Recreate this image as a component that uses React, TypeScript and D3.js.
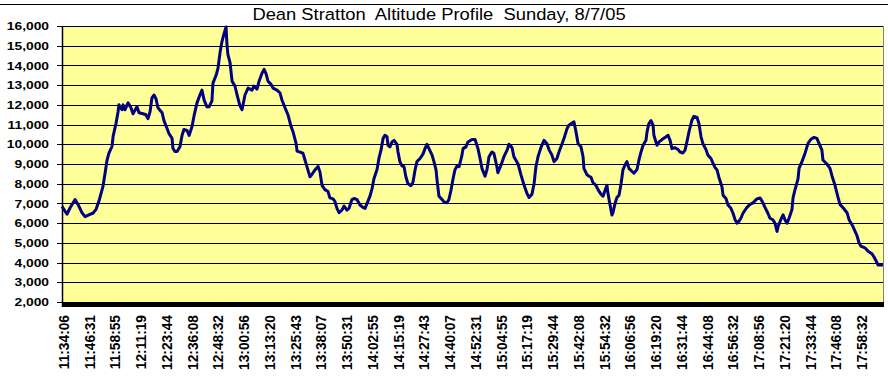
import React from "react";
import * as d3 from "d3";

const title = "Dean Stratton  Altitude Profile  Sunday, 8/7/05";
const originClock = "11:33:30";
const xEndMin = 395.8;

const timeLabels = [
  "11:34:06", "11:46:31", "11:58:55", "12:11:19", "12:23:44", "12:36:08", "12:48:32", "13:00:56",
  "13:13:20", "13:25:43", "13:38:07", "13:50:31", "14:02:55", "14:15:19", "14:27:43", "14:40:07",
  "14:52:31", "15:04:55", "15:17:19", "15:29:44", "15:42:08", "15:54:32", "16:06:56", "16:19:20",
  "16:31:44", "16:44:08", "16:56:32", "17:08:56", "17:21:20", "17:33:44", "17:46:08", "17:58:32",
];

const yTickValues = [2000, 3000, 4000, 5000, 6000, 7000, 8000, 9000, 10000, 11000, 12000, 13000, 14000, 15000, 16000];

// minutes since 11:33:30
const elapsedMin = [
  0.0, 2.4, 3.9, 6.3, 7.7, 9.6, 11.1, 13.5, 14.9, 16.4, 17.8, 19.7, 20.7, 21.7, 22.6, 24.1, 24.6, 26.0, 27.0, 27.4,
  28.9, 29.4, 30.3, 31.8, 33.2, 34.2, 36.1, 37.1, 39.0, 40.4, 41.4, 42.4, 43.3, 44.3, 45.3, 46.2, 48.2, 49.1, 50.6, 51.5,
  53.0, 53.4, 54.4, 55.4, 56.8, 57.8, 58.7, 60.2, 61.2, 62.6, 63.6, 65.0, 66.4, 67.4, 68.4, 69.8, 70.8, 72.2, 72.7, 74.2,
  75.1, 76.1, 77.0, 78.0, 79.0, 79.4, 79.9, 80.9, 81.9, 83.3, 84.3, 85.7, 86.7, 88.1, 89.6, 91.5, 92.4, 93.9, 94.9, 96.3,
  97.3, 98.2, 99.2, 100.6, 101.6, 103.5, 105.0, 105.9, 107.4, 108.8, 110.3, 111.2, 112.7, 113.2, 114.6, 116.0, 117.0, 118.4, 119.4, 120.4,
  121.8, 123.3, 124.2, 125.2, 126.6, 128.1, 129.0, 130.5, 131.4, 132.4, 133.4, 134.8, 135.8, 137.2, 138.2, 139.6, 140.6, 142.0, 143.5, 144.9,
  145.9, 146.9, 148.3, 149.3, 150.2, 151.7, 152.6, 153.6, 154.6, 155.5, 156.5, 157.0, 157.9, 158.9, 159.9, 161.3, 161.8, 162.7, 163.7, 164.7,
  165.6, 166.6, 168.0, 169.0, 170.0, 170.9, 172.4, 173.8, 174.8, 175.7, 176.7, 178.2, 179.1, 180.1, 180.6, 181.5, 183.0, 183.9, 185.4, 186.3,
  187.3, 188.3, 189.2, 190.2, 191.2, 192.6, 193.1, 194.5, 195.5, 197.4, 198.9, 200.3, 201.3, 202.2, 203.7, 204.6, 205.6, 207.0, 208.0, 209.4,
  209.9, 211.4, 212.8, 214.3, 215.2, 216.7, 217.6, 219.6, 221.0, 222.5, 223.9, 224.9, 226.3, 227.3, 228.2, 229.2, 230.6, 232.1, 233.5, 234.5,
  235.9, 236.9, 238.3, 239.3, 240.8, 241.7, 243.2, 244.1, 245.6, 246.5, 247.5, 248.5, 249.9, 250.9, 251.3, 252.8, 253.8, 254.7, 255.7, 257.1,
  258.1, 259.5, 260.5, 261.5, 262.4, 262.9, 263.9, 264.8, 265.3, 266.3, 267.2, 268.2, 269.2, 270.1, 271.1, 272.0, 273.0, 274.5, 275.4, 276.9,
  277.8, 278.8, 279.8, 281.2, 281.7, 282.6, 283.6, 284.6, 285.0, 286.5, 287.5, 288.9, 290.3, 291.8, 292.8, 293.7, 295.2, 296.6, 297.6, 299.0,
  300.0, 300.9, 301.9, 303.3, 304.3, 305.8, 306.7, 307.7, 308.6, 310.1, 311.0, 312.5, 313.5, 314.4, 315.4, 316.3, 317.8, 318.3, 319.7, 320.7,
  322.1, 323.1, 324.1, 325.0, 326.0, 326.9, 327.9, 329.8, 331.3, 332.7, 334.6, 336.1, 337.1, 338.5, 339.9, 340.9, 342.3, 343.3, 344.3, 344.8,
  346.2, 347.2, 348.1, 349.1, 350.1, 351.5, 352.0, 352.9, 354.4, 354.9, 356.3, 357.8, 359.2, 360.6, 362.1, 363.5, 364.5, 365.9, 366.4, 368.3,
  369.8, 370.8, 372.2, 373.6, 374.6, 376.1, 378.0, 379.0, 380.4, 381.4, 382.8, 383.8, 384.7, 386.6, 388.1, 390.0, 391.0, 392.4, 392.9, 395.3,
];

const altitudeFt = [
  6850, 6450, 6780, 7200, 6950, 6530, 6330, 6450, 6500, 6700, 7120, 7850, 8500, 9200, 9550, 9900, 10400, 11050, 11650, 12000,
  11750, 12000, 11750, 12100, 11850, 11550, 11900, 11600, 11550, 11500, 11300, 11650, 12350, 12500, 12300, 11850, 11600, 11200, 10800, 10550,
  10300, 9800, 9630, 9630, 9880, 10450, 10750, 10700, 10450, 10900, 11450, 12100, 12500, 12750, 12250, 11900, 11900, 12200, 13100, 13500,
  13850, 14650, 15200, 15600, 15950, 15100, 14550, 14150, 13200, 12950, 12500, 11950, 11750, 12500, 12850, 12750, 12950, 12800, 13200, 13600,
  13800, 13600, 13200, 13050, 12850, 12750, 12600, 12250, 11850, 11500, 10900, 10650, 10050, 9650, 9600, 9550, 9200, 8700, 8350, 8480,
  8700, 8880, 8600, 7920, 7700, 7600, 7280, 7230, 7100, 6750, 6530, 6660, 6870, 6660, 6750, 7200, 7250, 7200, 6920, 6800,
  6750, 7000, 7370, 7750, 8250, 8720, 9280, 9700, 10300, 10460, 10380, 9950, 9870, 10120, 10200, 10000, 9610, 9120, 8900, 8860,
  8340, 8000, 7900, 8080, 8700, 9120, 9280, 9500, 9780, 10000, 9780, 9450, 9120, 8700, 8170, 7370, 7200, 7080, 7030, 7200,
  7670, 8250, 8700, 8900, 8860, 9450, 9780, 9870, 10120, 10240, 10240, 9780, 9280, 8780, 8380, 8700, 9370, 9610, 9530, 8860,
  8560, 8950, 9370, 9700, 10000, 9830, 9370, 9000, 8450, 7920, 7500, 7300, 7470, 8000, 8860, 9370, 9830, 10200, 10030, 9730,
  9450, 9120, 9280, 9610, 10030, 10290, 10800, 10970, 11080, 11140, 10630, 10030, 9870, 9370, 8780, 8450, 8380, 8330, 8050, 7920,
  7700, 7470, 7370, 7670, 7920, 7500, 6920, 6410, 6530, 7000, 7300, 7420, 8000, 8700, 8950, 9120, 8780, 8620, 8530, 8730,
  9200, 9610, 9950, 10200, 10630, 11050, 11200, 10970, 10460, 9950, 10120, 10240, 10340, 10460, 10200, 9780, 9830, 9730, 9610, 9560,
  9700, 10120, 10630, 11220, 11420, 11360, 11050, 10380, 10030, 9730, 9450, 9280, 9030, 8830, 8700, 8330, 7830, 7420, 7250, 6920,
  6750, 6500, 6170, 6000, 6100, 6250, 6500, 6800, 6950, 7030, 7230, 7280, 7120, 6800, 6500, 6250, 6170, 6000, 5580, 5830,
  6200, 6420, 6170, 6000, 6250, 6700, 7280, 7670, 8250, 8780, 9120, 9550, 10050, 10250, 10350, 10300, 10050, 9700, 9200, 9000,
  8780, 8380, 7920, 7330, 6950, 6780, 6530, 6170, 5920, 5700, 5360, 5000, 4830, 4750, 4580, 4450, 4280, 4000, 3880, 3880,
];

const W = 888;
const H = 380;
const FONT = "'Liberation Sans', Arial, Helvetica, sans-serif";

function clockToMin(s: string): number {
  const [h, m, sec] = s.split(":").map(Number);
  return h * 60 + m + sec / 60;
}

export default function App() {
  const left = 62;
  const right = 884;
  const top = 26;
  const bottom = 302;

  const x = d3.scaleLinear().domain([0, xEndMin]).range([left, right]);
  const y = d3.scaleLinear().domain([2000, 16000]).range([bottom, top]);
  const origin = clockToMin(originClock);

  const pts: [number, number][] = elapsedMin.map((m, i) => [m, altitudeFt[i]]);
  const line = d3
    .line<[number, number]>()
    .x((d) => x(d[0]))
    .y((d) => y(d[1]));

  const fmt = d3.format(",");
  const snap = (v: number) => Math.round(v) + 0.5;

  return (
    <div style={{ position: "absolute", left: 0, top: 0 }}>
      <svg width={W} height={H} style={{ display: "block", background: "#fff" }} fontFamily={FONT}>
        {/* chart border top */}
        <line x1={0} x2={W} y1={4.5} y2={4.5} stroke="#000" strokeWidth={1} />
        {/* title */}
        <text
          transform={`translate(439,19.5) scale(1.1,1)`}
          textAnchor="middle"
          fontSize={16.7}
          fill="#000"
          xmlSpace="preserve"
          style={{ whiteSpace: "pre" }}
        >
          {title}
        </text>
        {/* plot area */}
        <rect x={left} y={top} width={right - left} height={bottom - top} fill="#FFFF99" />
        {/* gridlines */}
        {yTickValues.map((v) => (
          <line key={v} x1={left - 5} x2={right} y1={snap(y(v))} y2={snap(y(v))} stroke="#000" strokeWidth={1} />
        ))}
        {/* right border */}
        <line x1={right - 0.5} x2={right - 0.5} y1={top} y2={bottom} stroke="#808080" strokeWidth={1} />
        {/* value axis */}
        <line x1={left + 0.5} x2={left + 0.5} y1={top} y2={bottom + 5} stroke="#000" strokeWidth={1.5} />
        {/* floor band */}
        <rect x={left} y={bottom} width={right - left} height={5} fill="#000" />
        {/* y labels */}
        {yTickValues.map((v) => (
          <text
            key={v}
            transform={`translate(49,${y(v) + 4.1}) scale(1.2,1)`}
            textAnchor="end"
            fontSize={11.5}
            fontWeight="bold"
            fill="#000"
          >
            {fmt(v)}
          </text>
        ))}
        {/* x labels */}
        {timeLabels.map((t) => {
          const xm = x(clockToMin(t) - origin);
          return (
            <text
              key={t}
              transform={`translate(${xm + 5.5},315) rotate(-90) scale(1,1.12)`}
              textAnchor="end"
              fontSize={13.75}
              fontWeight="bold"
              fill="#000"
            >
              {t}
            </text>
          );
        })}
        {/* series */}
        <path d={line(pts) || ""} fill="none" stroke="#000080" strokeWidth={3} strokeLinejoin="round" />
      </svg>
    </div>
  );
}
